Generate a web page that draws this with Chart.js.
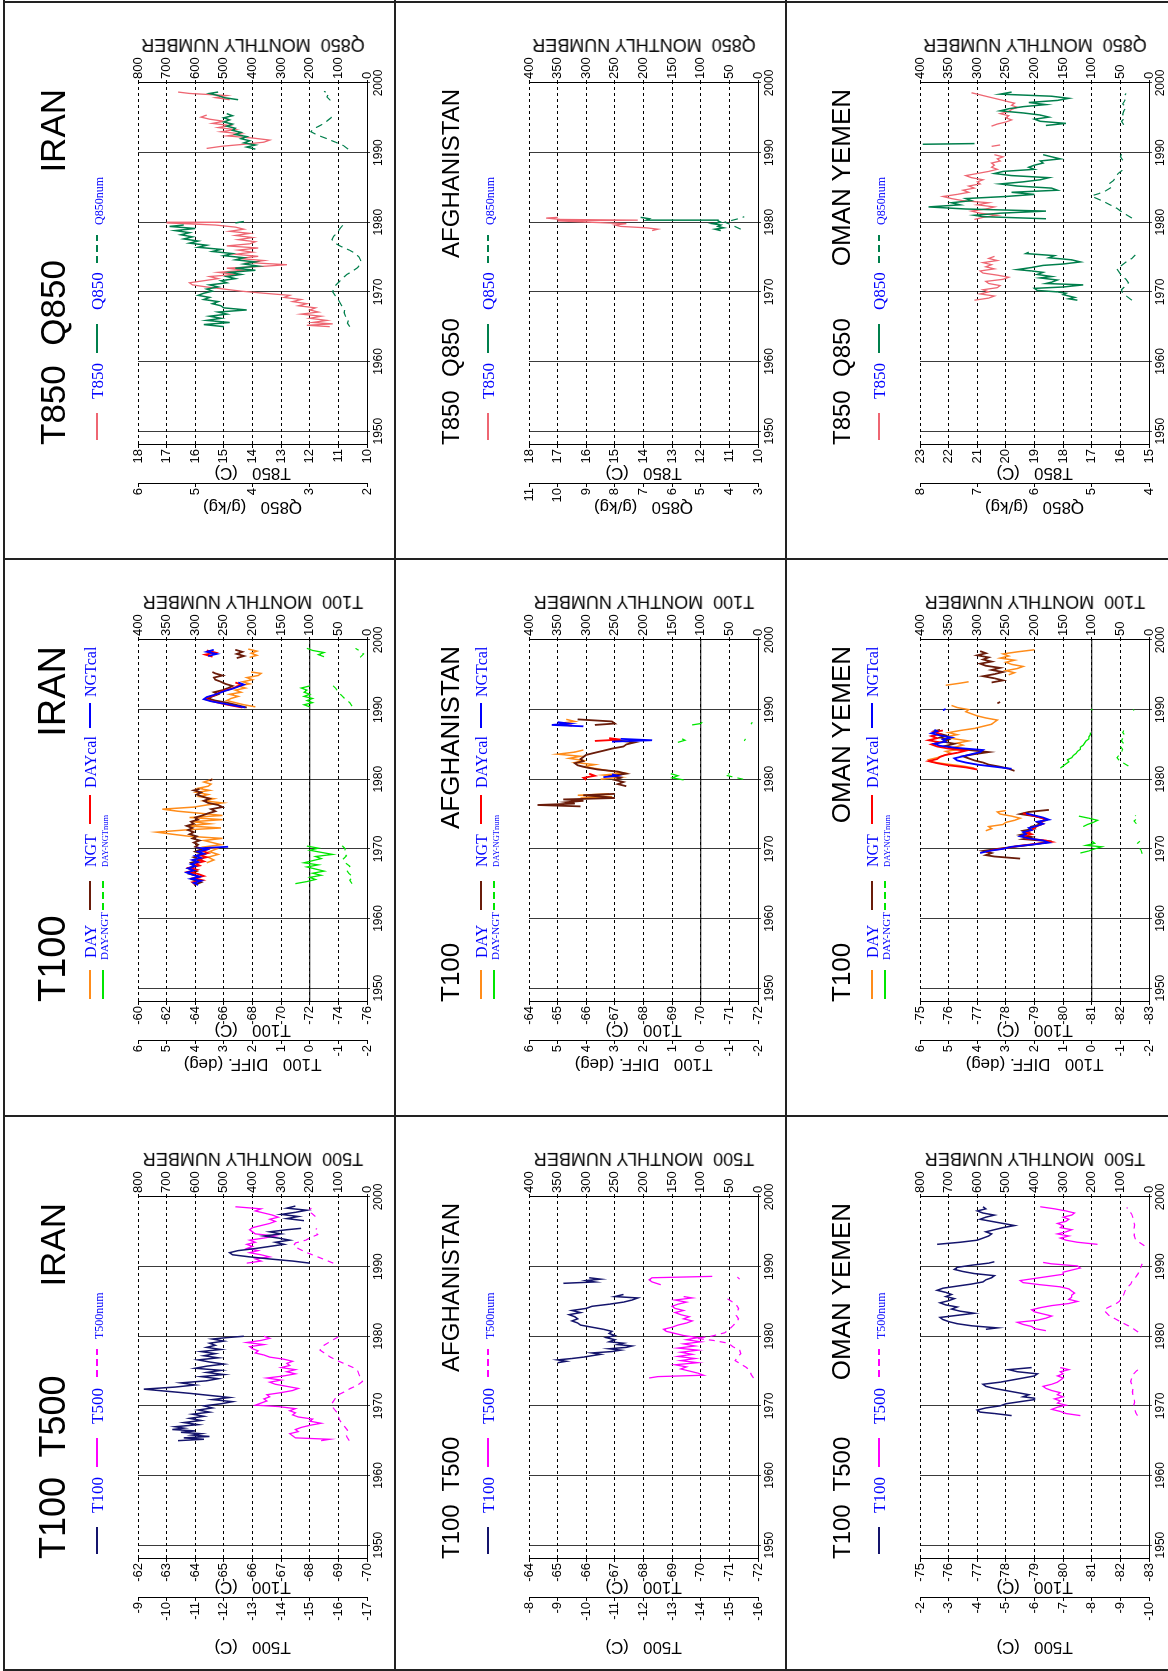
<!DOCTYPE html>
<html>
<head>
<meta charset="utf-8">
<script src="https://cdn.jsdelivr.net/npm/chart.js@4.4.1/dist/chart.umd.min.js"></script>
<style>
html, body { margin: 0; padding: 0; background: #fff; overflow: hidden; width: 1168px; height: 1671px; }
#page { position: absolute; left: 0; top: 0; width: 1671px; height: 1168px; overflow: hidden; background: #fff;
  transform-origin: 0 0; transform: translate(0, 1671px) rotate(-90deg); }
#page canvas { position: absolute; }
.t { position: absolute; white-space: pre; line-height: 1; }
.ln { position: absolute; background: #222; }
</style>
</head>
<body>
<div id="page"></div>
<script>
// years on the x axis
const yearTicks = [1950, 1960, 1970, 1980, 1990, 2000];
const countries = ['IRAN', 'AFGHANISTAN', 'OMAN YEMEN'];

// ---------- IRAN ----------
const iranT850 = [[1965.0,11.3],[1965.2,12.1],[1965.4,11.2],[1965.6,11.9],[1965.9,11.4],[1966.2,12.0],[1966.5,11.6],[1966.8,12.3],[1967.1,11.7],[1967.4,12.0],[1967.7,11.8],[1968.0,12.4],[1968.3,12.1],[1968.6,12.6],[1968.9,12.3],[1969.2,12.9],[1969.5,12.7],[1969.8,13.6],[1970.1,14.4],[1970.4,15.0],[1970.7,15.6],[1971.0,16.1],[1971.3,16.2],[1971.6,15.7],[1971.9,15.2],[1972.2,15.5],[1972.5,14.6],[1972.8,15.2],[1973.1,14.3],[1973.4,14.9],[1973.7,13.5],[1973.9,12.8],[1974.2,14.1],[1974.5,13.6],[1974.8,14.5],[1975.1,13.8],[1975.4,14.6],[1975.7,14.0],[1976.0,14.5],[1976.3,13.8],[1976.6,14.9],[1976.9,14.1],[1977.2,13.9],[1977.5,14.5],[1977.8,14.0],[1978.1,14.6],[1978.4,14.1],[1978.7,14.8],[1979.0,14.3],[1979.3,14.6],[1979.6,15.3],[1979.9,17.0],[1980.0,15.1],[1980.1,null],
  [1990.6,15.6],[1990.9,15.1],[1991.2,14.3],[1991.5,13.6],[1991.8,13.4],[1992.1,14.0],[1992.4,14.9],[1992.7,14.4],[1993.0,15.1],[1993.3,14.6],[1993.6,15.2],[1993.9,14.8],[1994.2,15.4],[1994.5,15.0],[1994.8,15.5],[1995.1,15.8],[1995.4,15.6],[1995.6,null],[1997.6,14.8],[1997.9,15.3],[1998.2,14.9],[1998.5,16.2],[1998.7,16.6]];
const iranQ850 = [[1965.0,4.5],[1965.3,4.85],[1965.6,4.4],[1965.9,4.8],[1966.2,4.55],[1966.5,4.75],[1966.8,4.45],[1967.1,4.6],[1967.4,4.1],[1967.7,4.5],[1968.0,4.55],[1968.3,4.7],[1968.6,4.6],[1968.9,4.85],[1969.2,4.75],[1969.5,4.95],[1969.8,4.85],[1970.1,4.7],[1970.4,4.8],[1970.7,4.6],[1971.0,4.75],[1971.3,4.45],[1971.6,4.55],[1971.9,4.3],[1972.2,4.45],[1972.5,4.2],[1972.8,4.4],[1973.1,3.95],[1973.4,4.3],[1973.7,3.9],[1974.0,4.15],[1974.3,3.95],[1974.6,4.3],[1974.9,4.15],[1975.2,4.5],[1975.5,4.35],[1975.8,4.7],[1976.1,4.55],[1976.4,4.95],[1976.7,4.8],[1977.0,5.1],[1977.3,4.95],[1977.6,5.2],[1977.9,5.05],[1978.2,5.25],[1978.5,5.1],[1978.8,5.35],[1979.1,5.0],[1979.4,5.45],[1979.6,5.2],[1979.7,null],[1979.9,4.3],[1980.1,4.15],[1980.2,null],
  [1990.5,3.95],[1990.8,4.1],[1991.1,3.95],[1991.4,4.15],[1991.7,4.05],[1992.0,4.2],[1992.3,4.1],[1992.6,4.3],[1992.9,4.2],[1993.2,4.35],[1993.5,4.3],[1993.8,4.45],[1994.1,4.35],[1994.4,4.5],[1994.7,4.4],[1995.0,4.5],[1995.3,4.35],[1995.6,4.45],[1995.8,null],[1997.6,4.25],[1997.9,4.5],[1998.2,4.6],[1998.5,4.75],[1998.7,4.6]];
const iranQ850Num = [[1965.0,60],[1965.5,68],[1966.0,64],[1966.5,75],[1967.0,80],[1967.5,78],[1968.0,88],[1968.5,95],[1969.0,102],[1969.5,112],[1970.0,120],[1970.5,116],[1971.0,108],[1971.5,96],[1972.0,84],[1972.5,70],[1973.0,50],[1973.5,32],[1974.0,24],[1974.5,22],[1975.0,28],[1975.5,40],[1976.0,62],[1976.5,90],[1977.0,112],[1977.5,122],[1978.0,116],[1978.5,104],[1979.0,96],[1979.5,86],[1980.0,78],[1980.2,null],
  [1990.5,66],[1991.0,82],[1991.5,110],[1992.0,140],[1992.5,172],[1993.0,196],[1993.4,188],[1993.8,168],[1994.2,150],[1994.6,138],[1995.0,126],[1995.5,118],[1995.7,null],[1997.5,128],[1998.0,140],[1998.5,134],[1998.8,150]];

const iranDay = [[1968.0,-64.8],[1968.4,-65.3],[1968.8,-64.9],[1969.2,-65.6],[1969.6,-65.0],[1970.0,-65.5],[1970.3,-64.7],[1970.6,-65.8],[1970.9,-65.2],[1971.2,-64.6],[1971.5,-65.9],[1971.8,-63.6],[1972.1,-62.4],[1972.4,-61.3],[1972.7,-63.2],[1973.0,-65.8],[1973.3,-63.4],[1973.6,-65.0],[1973.9,-63.8],[1974.2,-65.9],[1974.5,-63.6],[1974.8,-65.9],[1975.1,-64.4],[1975.4,-62.8],[1975.7,-61.7],[1976.0,-63.9],[1976.3,-64.8],[1976.6,-65.9],[1976.9,-64.6],[1977.2,-65.3],[1977.5,-64.3],[1977.8,-64.9],[1978.1,-64.1],[1978.4,-65.0],[1978.7,-64.2],[1979.0,-64.9],[1979.3,-65.1],[1979.6,-64.6],[1980.0,-65.2],[1980.2,null],
  [1990.4,-68.2],[1990.7,-67.4],[1991.0,-66.8],[1991.3,-66.2],[1991.6,-66.5],[1991.9,-67.0],[1992.2,-66.4],[1992.5,-67.2],[1992.8,-66.8],[1993.1,-67.5],[1993.4,-67.0],[1993.7,-67.8],[1994.0,-67.3],[1994.3,-68.0],[1994.6,-67.6],[1994.9,-68.4],[1995.2,-68.6],[1995.4,-67.9],[1995.6,null],[1997.5,-67.8],[1997.8,-68.3],[1998.1,-67.9],[1998.4,-68.3],[1998.7,-67.7]];
const iranNgt = [[1964.8,-63.9],[1965.2,-64.4],[1965.6,-63.8],[1966.0,-64.3],[1966.4,-63.6],[1966.8,-64.1],[1967.2,-63.5],[1967.6,-64.0],[1968.0,-63.7],[1968.4,-64.4],[1968.8,-63.9],[1969.2,-64.6],[1969.6,-64.0],[1970.0,-64.5],[1970.3,-64.0],[1970.6,-64.2],[1970.9,-63.9],[1971.2,-64.3],[1971.5,-63.8],[1971.8,-64.1],[1972.1,-63.6],[1972.4,-63.9],[1972.7,-63.5],[1973.0,-63.8],[1973.3,-63.4],[1973.6,-63.9],[1973.9,-63.7],[1974.2,-64.2],[1974.5,-64.0],[1974.8,-64.5],[1975.1,-64.9],[1975.4,-65.4],[1975.7,-65.1],[1976.0,-65.9],[1976.3,-65.6],[1976.6,-64.9],[1976.9,-64.6],[1977.2,-65.0],[1977.5,-64.5],[1977.8,-64.1],[1978.1,-64.4],[1978.4,-63.9],[1978.6,-64.3],[1978.7,null],[1979.8,-65.0],[1980.0,-65.2],[1980.1,null],
  [1990.3,-67.6],[1990.6,-67.0],[1991.0,-66.2],[1991.3,-65.4],[1991.6,-64.9],[1991.9,-65.2],[1992.2,-65.6],[1992.5,-65.3],[1992.8,-65.9],[1993.1,-66.3],[1993.4,-66.6],[1993.7,-66.1],[1994.0,-65.8],[1994.3,-65.4],[1994.6,-65.3],[1994.9,-65.9],[1995.2,-65.4],[1995.4,-65.2],[1995.5,null],[1997.4,-66.9],[1997.7,-67.4],[1998.0,-66.9],[1998.3,-67.3],[1998.6,-66.8]];
const iranDayCal = [[1964.9,-64.0],[1965.2,-63.8],[1965.5,-64.5],[1965.8,-63.9],[1966.1,-64.6],[1966.4,-64.2],[1966.7,-63.5],[1967.0,-64.1],[1967.3,-63.6],[1967.6,-64.3],[1967.9,-64.0],[1968.2,-64.6],[1968.5,-64.2],[1968.8,-64.8],[1969.1,-64.3],[1969.4,-64.9],[1969.7,-64.5],[1970.0,-65.0],[1970.2,null],
  [1990.3,-67.3],[1990.6,-66.5],[1990.9,-65.8],[1991.2,-65.2],[1991.5,-64.7],[1991.8,-64.9],[1992.1,-65.4],[1992.4,-65.6],[1992.7,-66.0],[1993.0,-66.5],[1993.3,-66.9],[1993.6,-67.2],[1993.9,-66.8],[1994.1,null],[1997.6,-65.2],[1997.9,-64.7],[1998.2,-65.4],[1998.5,-64.8]];
const iranNgtCal = [[1964.8,-64.2],[1965.1,-63.9],[1965.4,-64.4],[1965.7,-63.7],[1966.0,-64.3],[1966.3,-63.8],[1966.6,-63.4],[1966.9,-63.9],[1967.2,-63.5],[1967.5,-64.0],[1967.8,-63.7],[1968.1,-64.2],[1968.4,-63.8],[1968.7,-64.4],[1969.0,-64.0],[1969.3,-64.6],[1969.6,-64.2],[1969.9,-64.8],[1970.1,-64.4],[1970.3,-66.3],[1970.4,null],
  [1990.3,-67.5],[1990.6,-66.7],[1990.9,-65.9],[1991.2,-65.1],[1991.5,-64.6],[1991.8,-64.8],[1992.1,-65.3],[1992.4,-65.7],[1992.7,-66.1],[1993.0,-66.6],[1993.3,-67.0],[1993.6,-67.4],[1993.9,-67.0],[1994.1,null],[1997.7,-64.9],[1998.0,-65.5],[1998.3,-64.8],[1998.6,-65.3]];
const iranDiff = [[1965.0,0.5],[1965.3,0.1],[1965.6,-0.2],[1965.9,0.0],[1966.2,-0.4],[1966.5,-0.1],[1966.8,-0.5],[1967.1,-0.2],[1967.4,0.1],[1967.7,-0.3],[1968.0,0.2],[1968.3,-0.1],[1968.6,-0.4],[1968.9,-0.2],[1969.2,-0.8],[1969.5,-0.4],[1969.8,0.0],[1970.1,-0.3],[1970.4,0.1],[1970.6,null],
  [1990.4,0.0],[1990.7,0.2],[1991.0,-0.1],[1991.3,0.1],[1991.6,-0.1],[1991.9,0.2],[1992.2,0.0],[1992.5,0.2],[1992.8,0.1],[1993.1,0.3],[1993.4,0.0],[1993.6,null],[1997.6,-0.5],[1997.9,-0.3],[1998.2,-0.5],[1998.5,-0.1],[1998.8,0.1]];
const iranDiffNum = [[1965.0,26],[1965.5,30],[1966.0,25],[1966.5,32],[1967.0,36],[1967.5,30],[1968.0,38],[1968.5,42],[1969.0,36],[1969.5,40],[1970.0,38],[1970.5,44],[1970.7,null],
  [1990.5,26],[1991.0,30],[1991.5,38],[1992.0,44],[1992.5,50],[1993.0,54],[1993.5,60],[1993.7,null],[1997.5,12],[1998.0,6],[1998.5,14],[1998.8,20]];

const iranT100 = [[1965.0,-63.4],[1965.2,-64.3],[1965.4,-63.6],[1965.6,-64.5],[1965.8,-63.9],[1966.0,-64.2],[1966.2,-63.5],[1966.4,-64.0],[1966.6,-63.2],[1966.8,-63.6],[1967.0,-63.3],[1967.3,-64.1],[1967.6,-63.6],[1967.9,-64.2],[1968.2,-63.8],[1968.5,-64.3],[1968.8,-63.9],[1969.1,-64.5],[1969.4,-64.1],[1969.7,-64.6],[1970.0,-64.3],[1970.3,-64.9],[1970.6,-65.3],[1970.9,-64.6],[1971.2,-65.2],[1971.5,-64.5],[1971.8,-63.8],[1972.1,-63.0],[1972.4,-62.2],[1972.7,-63.3],[1973.0,-64.0],[1973.3,-63.5],[1973.6,-64.4],[1973.9,-64.8],[1974.2,-64.2],[1974.5,-65.0],[1974.8,-64.4],[1975.1,-64.9],[1975.4,-64.0],[1975.7,-64.4],[1976.0,-65.0],[1976.3,-64.5],[1976.6,-64.1],[1976.9,-64.8],[1977.2,-64.3],[1977.5,-64.7],[1977.8,-64.2],[1978.1,-64.9],[1978.4,-64.4],[1978.7,-64.7],[1979.0,-64.5],[1979.3,-65.0],[1979.6,-64.6],[1979.8,-65.1],[1980.0,-65.7],[1980.1,null],
  [1990.5,-68.0],[1990.8,-67.4],[1991.1,-66.6],[1991.4,-65.9],[1991.7,-65.3],[1992.0,-65.2],[1992.3,-65.5],[1992.6,-66.1],[1992.9,-66.6],[1993.2,-67.1],[1993.5,-66.8],[1993.8,-67.3],[1994.1,-66.9],[1994.4,-66.4],[1994.7,-67.0],[1995.0,-66.6],[1995.3,-67.2],[1995.5,-67.7],[1995.7,null],[1996.6,-67.8],[1996.9,-67.2],[1997.2,-67.6],[1997.5,-67.0],[1997.8,-67.5],[1998.1,-67.9],[1998.4,-67.2],[1998.7,-67.5]];
const iranT500 = [[1965.0,-15.4],[1965.2,-15.7],[1965.4,-14.5],[1965.7,-14.4],[1966.0,-14.3],[1966.3,-14.6],[1966.6,-14.5],[1966.9,-14.7],[1967.2,-15.0],[1967.5,-15.4],[1967.8,-15.0],[1968.1,-15.1],[1968.4,-14.6],[1968.7,-14.4],[1969.0,-14.5],[1969.3,-14.3],[1969.6,-14.5],[1969.9,-13.9],[1970.1,-13.1],[1970.4,-13.3],[1970.7,-13.5],[1971.0,-13.4],[1971.3,-13.6],[1971.6,-13.5],[1971.9,-14.0],[1972.2,-14.4],[1972.5,-14.6],[1972.8,-14.2],[1973.1,-13.8],[1973.4,-13.6],[1973.7,-14.0],[1974.0,-13.5],[1974.3,-14.1],[1974.6,-14.5],[1974.9,-14.2],[1975.2,-14.5],[1975.5,-14.0],[1975.8,-14.3],[1976.1,-14.2],[1976.4,-14.4],[1976.7,-14.1],[1977.0,-13.6],[1977.3,-13.4],[1977.6,-13.1],[1977.9,-13.2],[1978.2,-13.0],[1978.5,-12.9],[1978.8,-13.4],[1979.1,-12.8],[1979.4,-13.3],[1979.7,-13.6],[1980.0,-13.4],[1980.1,null],
  [1990.5,-12.8],[1990.8,-13.3],[1991.1,-13.1],[1991.4,-13.6],[1991.7,-13.3],[1992.0,-12.9],[1992.3,-13.2],[1992.6,-12.8],[1992.9,-13.0],[1993.2,-12.8],[1993.5,-13.1],[1993.8,-12.9],[1994.1,-13.4],[1994.4,-13.8],[1994.7,-13.1],[1995.0,-13.0],[1995.3,-12.9],[1995.6,-13.0],[1995.9,-13.3],[1996.2,-13.6],[1996.5,-13.8],[1996.8,-13.6],[1997.1,-13.9],[1997.4,-13.7],[1997.7,-13.4],[1998.0,-13.1],[1998.3,-13.3],[1998.6,-12.4]];
const iranT500Num = [[1965.0,62],[1965.5,70],[1966.0,74],[1966.5,68],[1967.0,78],[1967.5,88],[1968.0,96],[1968.5,100],[1969.0,104],[1969.5,114],[1970.0,124],[1970.5,120],[1971.0,112],[1971.5,104],[1972.0,80],[1972.5,58],[1973.0,32],[1973.5,16],[1974.0,22],[1974.5,28],[1975.0,32],[1975.5,48],[1976.0,76],[1976.5,104],[1977.0,128],[1977.5,146],[1978.0,164],[1978.5,158],[1979.0,138],[1979.5,118],[1980.0,96],[1980.1,null],
  [1990.5,118],[1991.0,148],[1991.5,178],[1992.0,210],[1992.5,236],[1993.0,256],[1993.4,250],[1993.8,214],[1994.2,196],[1994.6,172],[1995.0,182],[1995.5,176],[1995.7,null],[1997.2,180],[1997.6,192],[1998.0,206],[1998.4,194]];

// ---------- AFGHANISTAN ----------
const afgT850 = [[1978.8,13.7],[1979.0,13.5],[1979.2,13.9],[1979.4,14.8],[1979.6,15.0],[1979.8,14.6],[1980.0,15.9],[1980.2,17.0],[1980.3,14.2],[1980.4,16.9],[1980.6,17.4],[1980.7,17.0]];
const afgQ850 = [[1978.8,4.3],[1979.0,4.5],[1979.2,4.2],[1979.4,4.4],[1979.6,4.3],[1979.8,4.6],[1980.0,4.3],[1980.2,4.4],[1980.3,6.9],[1980.5,6.8],[1980.7,7.1]];
const afgQ850Num = [[1979.0,30],[1979.3,38],[1979.6,46],[1980.0,58],[1980.3,44],[1980.6,30],[1980.8,24]];

const afgDay = [[1977.3,-65.8],[1977.5,-66.9],[1977.7,-65.7],[1977.9,-66.8],[1978.0,null],[1980.0,-66.5],[1980.3,-67.2],[1980.6,-66.6],[1980.9,-67.3],[1981.2,-66.8],[1981.5,-66.4],[1981.8,-65.9],[1982.1,-66.3],[1982.4,-65.6],[1982.7,-65.9],[1983.0,-65.4],[1983.3,-65.8],[1983.6,-65.0],[1983.9,-65.6],[1984.2,-65.9],[1984.4,null],[1988.1,-65.2],[1988.3,-65.6],[1988.6,-65.3]];
const afgNgt = [[1976.1,-65.8],[1976.3,-64.3],[1976.5,-65.6],[1976.7,-65.3],[1976.9,-65.9],[1977.1,-65.2],[1977.3,-67.0],[1977.5,-66.6],[1977.7,-65.9],[1977.9,-67.0],[1978.0,null],[1979.0,-67.4],[1979.3,-67.1],[1979.6,-67.3],[1979.9,-67.0],[1980.2,-67.2],[1980.5,-66.9],[1980.8,-67.4],[1981.1,-67.1],[1981.4,-66.4],[1981.7,-66.0],[1982.0,-65.7],[1982.3,-65.6],[1982.6,-65.9],[1982.9,-65.8],[1983.2,-65.9],[1983.5,-66.0],[1983.8,-66.3],[1984.1,-66.6],[1984.4,-66.9],[1984.7,-67.3],[1985.0,-67.4],[1985.3,-67.7],[1985.6,-67.0],[1985.8,-66.9],[1985.9,null],[1987.8,-66.3],[1988.0,-67.0],[1988.3,-66.9],[1988.6,-65.7]];
const afgDayCal = [[1979.9,-66.0],[1980.2,-65.9],[1980.5,-66.3],[1980.8,-66.1],[1980.9,null],[1985.5,-66.3],[1985.7,-67.2],[1985.9,-66.8],[1986.0,null],[1987.7,-65.5],[1987.9,-65.1],[1988.1,-65.3]];
const afgNgtCal = [[1980.3,-66.6],[1980.5,-67.1],[1980.7,-66.9],[1980.8,null],[1985.4,-66.9],[1985.6,-68.3],[1985.8,-67.2],[1985.9,null],[1987.6,-65.9],[1987.8,-64.8],[1988.0,-65.4],[1988.2,-65.0]];
const afgDiff = [[1979.9,0.6],[1980.2,1.0],[1980.5,0.8],[1980.8,1.05],[1980.9,null],[1985.3,0.8],[1985.6,0.55],[1985.8,0.65],[1985.9,null],[1987.8,0.3],[1988.0,0.0],[1988.2,-0.05]];
const afgDiffNum = [[1980.0,26],[1980.3,42],[1980.6,58],[1980.8,50],[1980.9,null],[1985.5,24],[1985.8,22],[1985.9,null],[1987.9,12],[1988.2,10]];

const afgT100 = [[1976.2,-65.0],[1976.4,-65.3],[1976.6,-65.0],[1976.8,-65.5],[1977.0,-65.9],[1977.2,-66.2],[1977.4,-66.5],[1977.6,-66.2],[1977.8,-66.9],[1978.0,-67.2],[1978.2,-66.8],[1978.4,-67.4],[1978.6,-67.6],[1978.8,-67.1],[1979.0,-67.3],[1979.2,-66.8],[1979.5,-67.0],[1979.8,-66.7],[1980.1,-67.0],[1980.4,-66.8],[1980.7,-66.9],[1981.0,-66.6],[1981.3,-66.2],[1981.6,-65.8],[1981.9,-65.7],[1982.2,-65.5],[1982.5,-65.7],[1982.8,-65.6],[1983.1,-65.4],[1983.4,-65.8],[1983.7,-65.5],[1984.0,-66.0],[1984.3,-66.2],[1984.6,-66.8],[1984.9,-67.3],[1985.2,-67.6],[1985.5,-67.8],[1985.7,-67.0],[1986.0,-67.3],[1986.1,null],[1987.6,-65.2],[1987.8,-66.3],[1988.0,-66.0],[1988.2,-66.5],[1988.4,-66.1]];
const afgT500 = [[1974.0,-12.2],[1974.2,-12.5],[1974.4,-14.1],[1974.7,-13.9],[1975.0,-13.6],[1975.3,-13.3],[1975.6,-13.5],[1975.9,-13.1],[1976.2,-13.9],[1976.5,-13.3],[1976.8,-13.8],[1977.1,-13.2],[1977.4,-13.7],[1977.7,-13.3],[1978.0,-13.9],[1978.3,-13.2],[1978.6,-13.8],[1978.9,-13.4],[1979.2,-14.0],[1979.5,-13.5],[1979.8,-13.9],[1980.1,-13.4],[1980.4,-13.1],[1980.7,-12.8],[1981.0,-12.7],[1981.3,-13.0],[1981.6,-13.2],[1981.9,-13.5],[1982.2,-13.7],[1982.5,-13.4],[1982.8,-13.6],[1983.1,-13.3],[1983.4,-13.1],[1983.7,-13.4],[1984.0,-13.1],[1984.3,-13.0],[1984.6,-13.2],[1984.9,-13.5],[1985.2,-13.1],[1985.5,-13.7],[1985.7,-13.4],[1985.8,null],[1987.4,-12.6],[1987.8,-12.3],[1988.1,-12.2],[1988.4,-12.3],[1988.6,-14.4]];
const afgT500Num = [[1974.0,8],[1974.5,12],[1975.0,14],[1975.5,20],[1976.0,30],[1976.5,40],[1977.0,36],[1977.5,30],[1978.0,32],[1978.5,44],[1979.0,52],[1979.4,78],[1979.7,108],[1980.0,82],[1980.5,58],[1981.0,50],[1981.5,44],[1982.0,38],[1982.5,34],[1983.0,38],[1983.5,36],[1984.0,34],[1984.5,38],[1985.0,46],[1985.5,56],[1985.7,null],[1988.2,32],[1988.5,36]];

// ---------- OMAN YEMEN ----------
const omanT850 = [[1968.8,21.1],[1969.1,20.6],[1969.4,20.4],[1969.7,20.9],[1970.0,20.6],[1970.3,20.8],[1970.6,20.3],[1970.9,20.2],[1971.2,20.6],[1971.5,20.7],[1971.8,20.1],[1972.1,19.9],[1972.4,20.3],[1972.7,20.8],[1973.0,20.9],[1973.3,20.4],[1973.6,20.7],[1973.9,20.5],[1974.2,20.8],[1974.5,20.3],[1974.8,20.6],[1975.1,20.4],[1975.2,null],
  [1980.4,21.1],[1980.7,20.8],[1981.0,20.3],[1981.3,20.9],[1981.6,21.2],[1981.9,20.7],[1982.2,20.4],[1982.5,21.0],[1982.8,20.6],[1983.1,21.5],[1983.4,21.9],[1983.7,22.2],[1984.0,21.7],[1984.3,21.3],[1984.6,21.5],[1984.9,21.1],[1985.2,21.3],[1985.5,20.9],[1985.8,21.0],[1986.1,20.8],[1986.4,21.2],[1986.7,21.4],[1987.0,21.0],[1987.3,20.6],[1987.6,20.3],[1987.9,20.5],[1988.2,20.4],[1988.5,20.5],[1988.8,20.2],[1989.1,20.3],[1989.4,20.1],[1989.7,20.4],[1989.9,null],
  [1990.9,20.5],[1991.1,20.2],[1991.2,null],
  [1993.8,20.5],[1994.1,20.3],[1994.4,20.0],[1994.7,19.8],[1995.0,20.0],[1995.3,19.9],[1995.6,20.2],[1995.9,19.9],[1996.2,19.8],[1996.5,19.6],[1996.8,19.8],[1997.1,19.7],[1997.4,20.0],[1997.7,20.3],[1998.0,20.6],[1998.3,20.9],[1998.6,21.2]];
const omanQ850 = [[1968.8,5.25],[1969.0,5.4],[1969.2,5.3],[1969.4,5.4],[1969.6,5.5],[1969.8,5.45],[1970.0,5.6],[1970.2,5.95],[1970.5,6.0],[1970.7,5.5],[1971.0,5.15],[1971.2,5.8],[1971.4,5.7],[1971.7,5.6],[1972.0,5.9],[1972.2,5.7],[1972.5,5.95],[1972.8,5.85],[1973.0,6.05],[1973.2,6.3],[1973.5,6.05],[1973.8,5.85],[1974.0,5.5],[1974.3,5.2],[1974.6,5.35],[1974.9,5.75],[1975.2,5.65],[1975.5,6.15],[1975.7,6.1],[1975.8,null],
  [1980.5,5.8],[1980.8,6.9],[1981.0,7.05],[1981.3,6.6],[1981.6,5.8],[1981.9,7.2],[1982.2,7.85],[1982.5,7.3],[1982.8,7.45],[1983.1,7.1],[1983.4,7.2],[1983.7,6.5],[1984.0,6.0],[1984.3,6.4],[1984.6,5.6],[1984.9,5.7],[1985.2,6.3],[1985.5,6.6],[1985.8,6.2],[1986.1,5.9],[1986.4,5.75],[1986.7,6.4],[1987.0,6.7],[1987.3,6.55],[1987.6,6.0],[1987.9,6.1],[1988.2,6.0],[1988.5,5.85],[1988.8,5.9],[1989.1,5.55],[1989.4,5.7],[1989.7,5.85],[1989.8,null],
  [1991.2,7.95],[1991.3,7.05],[1991.4,null],
  [1993.9,5.8],[1994.2,5.45],[1994.5,5.9],[1994.8,6.0],[1995.1,5.75],[1995.4,5.9],[1995.7,6.2],[1996.0,6.6],[1996.3,6.45],[1996.6,6.2],[1996.9,5.8],[1997.2,6.1],[1997.5,5.6],[1997.8,5.4],[1998.1,5.7],[1998.4,6.6],[1998.7,6.4]];
const omanQ850Num = [[1968.8,30],[1969.3,38],[1969.8,46],[1970.3,48],[1970.8,42],[1971.3,36],[1971.8,40],[1972.3,48],[1972.8,52],[1973.3,56],[1973.8,48],[1974.3,40],[1974.8,30],[1975.3,24],[1975.5,null],
  [1980.6,30],[1981.0,38],[1981.5,48],[1982.0,56],[1982.5,68],[1983.0,80],[1983.5,94],[1983.8,100],[1984.1,88],[1984.5,76],[1985.0,66],[1985.5,70],[1986.0,62],[1986.5,58],[1987.0,54],[1987.5,46],[1987.9,40],[1988.3,null],[1988.9,46],[1989.4,50],[1989.8,48],[1990.0,null],[1991.2,22],[1991.4,null],
  [1994.0,44],[1994.5,48],[1995.0,42],[1995.5,46],[1996.0,44],[1996.5,40],[1997.0,46],[1997.5,42],[1998.0,44],[1998.5,40]];

const omanDay = [[1972.6,-77.3],[1972.9,-77.5],[1973.2,-77.4],[1973.5,-77.9],[1973.8,-78.0],[1974.1,-78.3],[1974.4,-78.5],[1974.7,-78.2],[1975.0,-77.8],[1975.3,-77.7],[1975.5,-78.0],[1975.6,null],
  [1981.6,-76.9],[1981.9,-76.5],[1982.2,-75.9],[1982.5,-75.4],[1982.8,-75.3],[1983.1,-75.6],[1983.4,-75.8],[1983.7,-76.1],[1984.0,-75.9],[1984.3,-76.4],[1984.6,-76.2],[1984.9,-76.5],[1985.2,-76.3],[1985.5,-76.7],[1985.8,-76.2],[1986.1,-75.9],[1986.4,-76.3],[1986.7,-76.0],[1987.0,-76.4],[1987.3,-76.9],[1987.6,-77.2],[1987.9,-77.5],[1988.2,-77.6],[1988.5,-77.7],[1988.8,-77.3],[1989.1,-77.0],[1989.4,-76.8],[1989.7,-76.6],[1990.0,-76.7],[1990.3,-76.3],[1990.6,-76.1],[1990.7,null],
  [1993.5,-75.9],[1993.8,-76.4],[1994.0,-76.7],[1994.1,null],
  [1995.0,-78.1],[1995.3,-78.3],[1995.6,-78.0],[1995.9,-78.4],[1996.2,-78.6],[1996.5,-78.2],[1996.8,-78.0],[1997.1,-78.3],[1997.4,-77.8],[1997.7,-78.1],[1998.0,-77.9],[1998.3,-78.4],[1998.6,-79.0]];
const omanNgt = [[1968.6,-78.5],[1968.9,-77.6],[1969.1,-77.3],[1969.4,-77.5],[1969.7,-77.2],[1970.0,-77.7],[1970.3,-78.3],[1970.6,-78.9],[1970.9,-79.4],[1971.1,-79.5],[1971.4,-78.6],[1971.7,-78.9],[1972.0,-78.5],[1972.3,-78.8],[1972.6,-78.6],[1972.9,-79.0],[1973.2,-78.9],[1973.5,-79.2],[1973.8,-79.1],[1974.1,-79.4],[1974.4,-79.3],[1974.7,-79.0],[1975.0,-78.5],[1975.3,-78.8],[1975.6,-79.5],[1975.7,null],
  [1981.2,-78.3],[1981.5,-78.1],[1981.8,-77.8],[1982.1,-77.4],[1982.4,-77.2],[1982.7,-76.9],[1983.0,-76.7],[1983.3,-76.5],[1983.6,-76.9],[1983.9,-77.4],[1984.2,-76.7],[1984.5,-76.1],[1984.8,-75.9],[1985.1,-76.2],[1985.4,-75.8],[1985.7,-76.0],[1986.0,-75.7],[1986.3,-75.9],[1986.6,-75.6],[1986.9,-75.5],[1987.1,-75.7],[1987.2,null],
  [1990.9,-77.7],[1991.1,-77.8],[1991.2,null],
  [1993.9,-77.5],[1994.2,-77.9],[1994.5,-77.6],[1994.8,-77.2],[1995.1,-77.6],[1995.4,-77.9],[1995.7,-77.5],[1996.0,-77.8],[1996.3,-77.3],[1996.6,-77.1],[1996.9,-77.5],[1997.2,-77.2],[1997.5,-77.4],[1997.8,-77.0],[1998.1,-77.3],[1998.4,-77.1]];
const omanDayCal = [[1969.5,-77.3],[1969.8,-77.5],[1970.1,-78.0],[1970.4,-78.4],[1970.7,-79.0],[1971.0,-79.6],[1971.2,-79.4],[1971.5,-78.7],[1971.8,-78.6],[1972.1,-78.9],[1972.4,-78.7],[1972.7,-78.9],[1973.0,-79.0],[1973.3,-79.1],[1973.6,-79.3],[1973.9,-79.2],[1974.2,-79.4],[1974.5,-79.2],[1974.8,-78.9],[1975.1,-78.6],[1975.3,null],
  [1981.4,-77.0],[1981.7,-76.6],[1982.0,-76.0],[1982.3,-75.6],[1982.6,-75.3],[1982.9,-75.6],[1983.2,-75.7],[1983.5,-75.9],[1983.8,-76.3],[1984.1,-76.6],[1984.4,-76.0],[1984.7,-75.6],[1985.0,-75.4],[1985.3,-75.7],[1985.6,-75.3],[1985.9,-75.6],[1986.2,-75.4],[1986.5,-75.7],[1986.8,-75.5],[1987.0,-75.8],[1987.1,null]];
const omanNgtCal = [[1969.4,-77.1],[1969.7,-77.4],[1970.0,-77.9],[1970.3,-78.2],[1970.6,-78.9],[1970.9,-79.5],[1971.2,-79.3],[1971.5,-78.8],[1971.8,-78.5],[1972.1,-78.7],[1972.4,-78.6],[1972.7,-78.9],[1973.0,-78.8],[1973.3,-79.1],[1973.6,-79.3],[1973.9,-79.1],[1974.2,-79.5],[1974.5,-79.3],[1974.8,-79.0],[1975.1,-78.7],[1975.2,null],
  [1981.5,-78.2],[1981.8,-77.6],[1982.1,-77.0],[1982.4,-76.6],[1982.7,-76.3],[1983.0,-76.2],[1983.3,-76.5],[1983.6,-76.8],[1983.9,-77.1],[1984.2,-77.2],[1984.5,-76.3],[1984.8,-75.7],[1985.1,-75.5],[1985.4,-75.9],[1985.7,-75.8],[1986.0,-76.1],[1986.3,-75.7],[1986.6,-75.4],[1986.9,-75.6],[1987.1,-75.5],[1987.2,null],[1989.9,-75.8],[1990.1,-75.9],[1990.2,null]];
const omanDiff = [[1969.4,0.4],[1969.7,0.1],[1970.0,-0.1],[1970.3,-0.35],[1970.5,0.2],[1970.8,-0.1],[1971.1,0.0],[1971.3,null],[1973.2,0.3],[1973.5,0.15],[1973.8,-0.05],[1974.1,-0.2],[1974.4,0.1],[1974.7,0.45],[1974.9,null],
  [1981.6,1.1],[1981.9,1.0],[1982.2,0.9],[1982.5,0.8],[1982.8,0.85],[1983.1,0.7],[1983.4,0.65],[1983.7,0.55],[1984.0,0.5],[1984.3,0.4],[1984.6,0.4],[1984.9,0.3],[1985.2,0.25],[1985.5,0.2],[1985.8,0.1],[1986.1,0.1],[1986.4,0.05],[1986.7,0.05],[1986.9,null],[1989.9,0.0],[1990.1,0.0]];
const omanDiffNum = [[1969.3,12],[1969.8,14],[1970.3,18],[1970.8,20],[1971.1,16],[1971.2,null],[1973.6,22],[1974.0,26],[1974.4,20],[1974.8,24],[1975.0,null],
  [1981.9,36],[1982.3,44],[1982.7,52],[1983.1,56],[1983.5,52],[1983.9,48],[1984.3,46],[1984.7,50],[1985.1,44],[1985.5,48],[1985.9,46],[1986.3,42],[1986.7,46],[1987.0,44],[1987.1,null],[1989.9,28],[1990.0,26]];

const omanT100 = [[1968.6,-78.2],[1968.9,-77.6],[1969.1,-77.1],[1969.4,-77.0],[1969.7,-77.3],[1970.0,-77.8],[1970.3,-78.0],[1970.6,-78.5],[1970.9,-79.0],[1971.1,-79.0],[1971.3,-78.6],[1971.6,-78.8],[1971.9,-78.4],[1972.2,-78.0],[1972.5,-77.6],[1972.8,-77.3],[1973.1,-77.2],[1973.4,-77.8],[1973.7,-78.2],[1974.0,-78.6],[1974.3,-79.0],[1974.6,-79.1],[1974.9,-78.4],[1975.2,-78.1],[1975.5,-78.9],[1975.6,null],
  [1981.0,-77.3],[1981.2,-77.7],[1981.5,-76.8],[1981.8,-76.3],[1982.1,-76.0],[1982.4,-75.8],[1982.7,-75.7],[1983.0,-76.3],[1983.3,-76.9],[1983.6,-76.4],[1983.9,-76.1],[1984.2,-76.3],[1984.5,-75.9],[1984.8,-75.7],[1985.1,-76.0],[1985.4,-76.2],[1985.7,-75.9],[1986.0,-76.1],[1986.3,-75.9],[1986.6,-75.6],[1986.9,-75.8],[1987.2,-76.3],[1987.5,-76.8],[1987.8,-77.2],[1988.1,-77.3],[1988.4,-77.5],[1988.7,-77.6],[1989.0,-76.9],[1989.3,-76.5],[1989.6,-76.2],[1989.9,-76.3],[1990.2,-76.8],[1990.5,-77.4],[1990.7,-77.6],[1990.8,null],
  [1993.2,-75.6],[1993.5,-76.4],[1993.8,-77.0],[1994.1,-77.2],[1994.4,-77.4],[1994.7,-77.5],[1995.0,-77.3],[1995.3,-77.6],[1995.6,-77.9],[1995.9,-78.3],[1996.2,-77.9],[1996.5,-77.5],[1996.8,-77.1],[1997.1,-77.3],[1997.4,-77.6],[1997.7,-77.2],[1998.0,-77.0],[1998.3,-77.3],[1998.6,-77.2]];
const omanT500 = [[1968.6,-7.6],[1968.9,-7.1],[1969.2,-6.9],[1969.5,-6.6],[1969.8,-6.8],[1970.1,-7.1],[1970.4,-6.8],[1970.7,-6.9],[1971.0,-6.7],[1971.3,-7.0],[1971.6,-6.8],[1971.9,-6.9],[1972.2,-6.6],[1972.5,-6.4],[1972.8,-6.3],[1973.1,-6.6],[1973.4,-6.8],[1973.7,-6.9],[1974.0,-7.0],[1974.3,-6.8],[1974.6,-7.0],[1974.9,-6.9],[1975.2,-7.2],[1975.5,-6.9],[1975.6,null],
  [1980.8,-6.4],[1981.1,-6.0],[1981.4,-5.9],[1981.7,-5.6],[1982.0,-5.4],[1982.3,-6.1],[1982.6,-6.4],[1982.9,-6.6],[1983.2,-6.3],[1983.5,-6.0],[1983.8,-5.9],[1984.1,-6.2],[1984.4,-6.6],[1984.7,-7.2],[1985.0,-7.5],[1985.3,-7.2],[1985.6,-7.3],[1985.9,-7.3],[1986.2,-7.4],[1986.5,-7.3],[1986.8,-7.2],[1987.1,-6.9],[1987.4,-6.2],[1987.7,-5.6],[1988.0,-5.5],[1988.3,-6.0],[1988.6,-6.5],[1988.9,-7.0],[1989.2,-7.0],[1989.5,-7.3],[1989.8,-7.6],[1990.1,-7.5],[1990.4,-6.6],[1990.6,-6.3],[1990.7,null],
  [1993.2,-8.2],[1993.5,-7.5],[1993.8,-7.1],[1994.1,-6.9],[1994.4,-7.2],[1994.7,-6.8],[1995.0,-7.1],[1995.3,-7.3],[1995.6,-6.9],[1995.9,-7.0],[1996.2,-6.8],[1996.5,-7.1],[1996.8,-7.2],[1997.1,-7.0],[1997.4,-7.3],[1997.7,-7.4],[1998.0,-7.1],[1998.3,-6.7],[1998.6,-6.2]];
const omanT500Num = [[1968.6,40],[1969.0,46],[1969.5,50],[1970.0,54],[1970.5,50],[1971.0,52],[1971.5,56],[1972.0,58],[1972.5,56],[1973.0,60],[1973.5,64],[1974.0,60],[1974.5,56],[1975.0,44],[1975.5,28],[1975.6,null],
  [1980.6,38],[1981.0,52],[1981.5,72],[1982.0,96],[1982.5,118],[1983.0,140],[1983.5,152],[1983.8,158],[1984.2,140],[1984.6,118],[1985.0,104],[1985.5,96],[1986.0,88],[1986.5,84],[1987.0,76],[1987.5,64],[1988.0,58],[1988.5,46],[1989.0,38],[1989.5,32],[1990.0,28],[1990.4,24],[1990.5,null],
  [1993.0,16],[1993.5,34],[1994.0,48],[1994.5,52],[1995.0,50],[1995.5,52],[1996.0,50],[1996.5,54],[1997.0,56],[1997.5,60],[1998.0,68],[1998.5,78]];

// axis ranges [min, max, step]
const rangeT850 = [[10, 18, 1], [10, 18, 1], [15, 23, 1]];
const rangeQ850 = [[2, 6, 1], [3, 11, 1], [4, 8, 1]];
const rangeQ850Num = [[0, 800, 100], [0, 400, 50], [0, 400, 50]];
const rangeT100 = [[-76, -60, 2], [-72, -64, 1], [-83, -75, 1]];
const rangeDiff = [-2, 6, 1];
const rangeT100Num = [[0, 400, 50], [0, 400, 50], [0, 400, 50]];
const rangeT100b = [[-70, -62, 1], [-72, -64, 1], [-83, -75, 1]];
const rangeT500 = [[-17, -9, 1], [-16, -8, 1], [-10, -2, 1]];
const rangeT500Num = [[0, 800, 100], [0, 400, 50], [0, 800, 100]];

const C = { t850: '#ee6672', q850: '#007f4c', t100: '#14146c', t500: '#ff00ff', day: '#ff8c1a',
  ngt: '#6a1c0a', dayc: '#ff0000', ngtc: '#0000ff', diff: '#00e600' };

const SANS = '"Liberation Sans", Arial, sans-serif';
const SERIF = '"Liberation Serif", "Times New Roman", serif';
Chart.defaults.font.family = SANS;
Chart.defaults.color = '#000';

const page = document.getElementById('page');
const colLeft = [-2, 555, 1112];   // T100 T500 | T100 | T850 Q850
const rowTop = [4, 395, 786];
const PW = 557, PH = 391;
const TICK = 13, TITLE = 17;

function addText(str, x, base, size, opt) {
  opt = opt || {};
  const d = document.createElement('div');
  d.className = 't';
  d.textContent = str;
  d.style.fontSize = size + 'px';
  d.style.fontFamily = opt.serif ? SERIF : SANS;
  d.style.color = opt.color || '#000';
  d.style.left = x + 'px';
  d.style.top = (base - 0.845 * size) + 'px';
  if (opt.right) d.style.transform = 'translateX(-100%)';
  page.appendChild(d);
}
function addVText(str, cx, cy, size) {
  const d = document.createElement('div');
  d.className = 't';
  d.textContent = str;
  d.style.fontSize = size + 'px';
  d.style.fontFamily = SANS;
  d.style.left = cx + 'px';
  d.style.top = cy + 'px';
  d.style.transform = 'translate(-50%, -50%) rotate(-90deg)';
  page.appendChild(d);
}
function addSample(x1, x2, y, color, dashed, w) {
  const d = document.createElement('div');
  d.style.position = 'absolute';
  d.style.left = x1 + 'px';
  d.style.top = (y - w / 2) + 'px';
  d.style.width = (x2 - x1) + 'px';
  d.style.height = w + 'px';
  d.style.background = dashed ? `repeating-linear-gradient(90deg, ${color} 0 7px, transparent 7px 11px)` : color;
  page.appendChild(d);
}
function addLine(x, y, w, h) {
  const d = document.createElement('div');
  d.className = 'ln';
  d.style.left = x + 'px'; d.style.top = y + 'px';
  d.style.width = w + 'px'; d.style.height = h + 'px';
  page.appendChild(d);
}

function ds(points, axis, color, width, dash, order) {
  return {
    data: points.map(p => ({ x: p[0], y: p[1] })),
    yAxisID: axis, borderColor: color, borderWidth: width, borderDash: dash || [],
    pointRadius: 0, fill: false, tension: 0, spanGaps: false, order: order || 0
  };
}

function yScale(r, pos, width, title, titlePad, inner) {
  return {
    type: 'linear', position: pos, min: r[0], max: r[1], weight: inner ? 0 : 1,
    afterFit: s => { s.width = width; },
    ticks: { stepSize: r[2], autoSkip: false, padding: 1, font: { size: TICK }, color: '#000', callback: v => String(v) },
    grid: { drawOnChartArea: !!inner, color: '#000', lineWidth: 1, tickLength: 3, tickColor: '#000' },
    border: { display: true, color: '#000', width: 1, dash: inner ? [3, 3] : [] },
    title: title ? { display: true, text: title, font: { size: TITLE }, color: '#000', padding: { top: titlePad, bottom: 0 } } : { display: false }
  };
}

function makePanel(p) {
  const left = colLeft[p.col], top = rowTop[p.row];
  // outer left axis reaches further out on the T500 sheets
  const padLeft = p.kind === 'T500' ? 6 : 20;
  const outerPad = p.kind === 'T500' ? 10 : 22;
  const cv = document.createElement('canvas');
  cv.width = PW; cv.height = PH;
  cv.style.left = left + 'px'; cv.style.top = top + 'px';
  page.appendChild(cv);
  new Chart(cv, {
    type: 'line',
    data: { datasets: p.sets },
    options: {
      responsive: false, animation: false, events: [],
      layout: { padding: { top: 134, left: padLeft, right: 0, bottom: 0 } },
      plugins: { legend: { display: false }, tooltip: { enabled: false }, title: { display: false } },
      scales: {
        x: {
          type: 'linear', position: 'bottom', min: 1948, max: 2000,
          afterBuildTicks: s => { s.ticks = yearTicks.map(v => ({ value: v })); },
          afterFit: s => { s.height = PH - 363; },
          ticks: { autoSkip: false, maxRotation: 0, padding: 1, font: { size: 12 }, color: '#000', callback: v => String(v) },
          grid: { color: '#3a3a3a', lineWidth: 1, tickLength: 3 },
          border: { color: '#000', width: 1 }
        },
        yIn: yScale(p.inner, 'left', 39, p.innerTitle, 1, true),
        yOut: yScale(p.outer, 'left', 75 - padLeft, p.outerTitle, outerPad, false),
        yR: yScale(p.right, 'right', PW - 476, null, 0, false)
      }
    }
  });
  // right axis title, reading upwards
  addVText(p.rightTitle, left + 514, top + 248.5, 18);
  // headline
  const base = top + (p.row === 0 ? 61 : 64);
  addText(p.head, left + 114, base, p.headSize);
  addText(countries[p.row], left + 470, base, p.nameSize, { right: true });
  // legend
  const B = '#0000ff';
  if (p.kind === 'T100') {
    const y1 = top + 86, b1 = top + 93, y2 = top + 99, b2 = top + 104;
    addSample(left + 117, left + 146, y1, C.day, false, 1.6); addText('DAY', left + 158, b1, 16, { serif: true, color: B });
    addSample(left + 206, left + 235, y1, C.ngt, false, 1.6); addText('NGT', left + 249, b1, 16, { serif: true, color: B });
    addSample(left + 292, left + 321, y1, C.dayc, false, 1.6); addText('DAYcal', left + 328, b1, 16, { serif: true, color: B });
    addSample(left + 388, left + 413, y1, C.ngtc, false, 1.6); addText('NGTcal', left + 419, b1, 16, { serif: true, color: B });
    addSample(left + 117, left + 146, y2, C.diff, false, 1.4); addText('DAY-NGT', left + 156, b2, 11, { serif: true, color: B });
    addSample(left + 206, left + 235, y2, C.diff, true, 1.4); addText('DAY-NGTnum', left + 249, b2, 8.5, { serif: true, color: B });
  } else {
    const y = top + 93, b = top + 99;
    const it = p.kind === 'T850'
      ? [[C.t850, 'T850'], [C.q850, 'Q850'], [C.q850, 'Q850num']]
      : [[C.t100, 'T100'], [C.t500, 'T500'], [C.t500, 'T500num']];
    addSample(left + 119, left + 146, y, it[0][0], false, 1.6); addText(it[0][1], left + 160, b, 17, { serif: true, color: B });
    addSample(left + 206, left + 235, y, it[1][0], false, 1.6); addText(it[1][1], left + 249, b, 17, { serif: true, color: B });
    addSample(left + 296, left + 324, y, it[2][0], true, 1.4); addText(it[2][1], left + 334, b, 12, { serif: true, color: B });
  }
}

const zeroLine = [[1948, 0], [2000, 0]];
const t850Sets = [[iranT850, iranQ850, iranQ850Num], [afgT850, afgQ850, afgQ850Num], [omanT850, omanQ850, omanQ850Num]];
const t100Sets = [[iranDay, iranNgt, iranDayCal, iranNgtCal, iranDiff, iranDiffNum],
  [afgDay, afgNgt, afgDayCal, afgNgtCal, afgDiff, afgDiffNum],
  [omanDay, omanNgt, omanDayCal, omanNgtCal, omanDiff, omanDiffNum]];
const t500Sets = [[iranT100, iranT500, iranT500Num], [afgT100, afgT500, afgT500Num], [omanT100, omanT500, omanT500Num]];
const headSizes = { T850: [35, 24, 24], T100: [38, 26, 26], T500: [36, 24, 24] };
const nameSizes = { T850: [35, 24, 26], T100: [38, 26, 26], T500: [35, 24, 26] };

for (let r = 0; r < 3; r++) {
  const a = t850Sets[r];
  makePanel({ col: 2, row: r, kind: 'T850', head: 'T850  Q850', headSize: headSizes.T850[r], nameSize: nameSizes.T850[r],
    inner: rangeT850[r], outer: rangeQ850[r], right: rangeQ850Num[r],
    innerTitle: 'T850   (C)', outerTitle: 'Q850   (g/kg)', rightTitle: 'Q850  MONTHLY NUMBER',
    sets: [ds(a[1], 'yOut', C.q850, 1.5), ds(a[0], 'yIn', C.t850, 1.3), ds(a[2], 'yR', C.q850, 1.2, [7, 5])] });

  const b = t100Sets[r];
  makePanel({ col: 1, row: r, kind: 'T100', head: 'T100', headSize: headSizes.T100[r], nameSize: nameSizes.T100[r],
    inner: rangeT100[r], outer: rangeDiff, right: rangeT100Num[r],
    innerTitle: 'T100   (C)', outerTitle: 'T100   DIFF. (deg)', rightTitle: 'T100  MONTHLY NUMBER',
    sets: [ds(b[3], 'yIn', C.ngtc, 1.8), ds(b[2], 'yIn', C.dayc, 1.8), ds(b[1], 'yIn', C.ngt, 1.8), ds(b[0], 'yIn', C.day, 1.5),
      ds(b[4], 'yOut', C.diff, 1.3), ds(b[5], 'yR', C.diff, 1.2, [6, 5]), ds(zeroLine, 'yOut', '#000', 1, [], 10)] });

  const c = t500Sets[r];
  makePanel({ col: 0, row: r, kind: 'T500', head: 'T100  T500', headSize: headSizes.T500[r], nameSize: nameSizes.T500[r],
    inner: rangeT100b[r], outer: rangeT500[r], right: rangeT500Num[r],
    innerTitle: 'T100   (C)', outerTitle: 'T500   (C)', rightTitle: 'T500  MONTHLY NUMBER',
    sets: [ds(c[0], 'yIn', C.t100, 1.5), ds(c[1], 'yOut', C.t500, 1.3), ds(c[2], 'yR', C.t500, 1.2, [6, 5])] });
}

// panel frame
[4, 395, 786].forEach(y => addLine(0, y - 1, 1671, 2));
[1, 555, 1112, 1669].forEach(x => addLine(x - 1, 3, 2, 1165));
</script>
</body>
</html>
